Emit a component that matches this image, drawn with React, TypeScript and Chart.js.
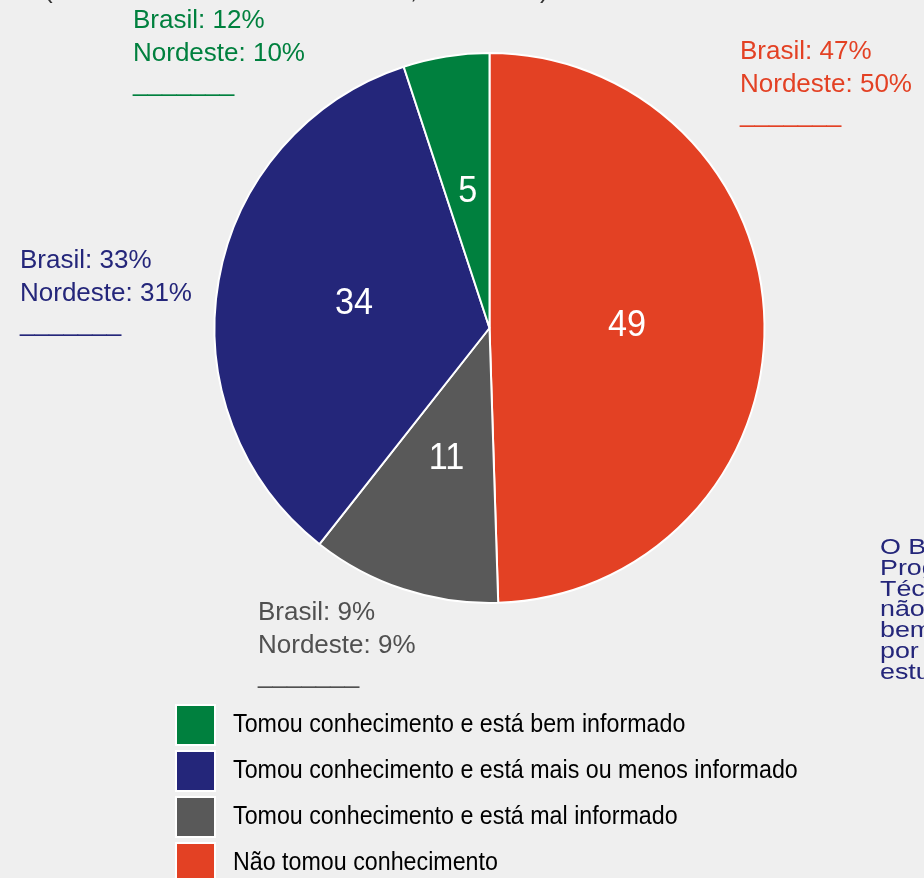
import React, { useEffect, useRef } from "react";
import { Chart, registerables } from "chart.js";

Chart.register(...registerables);

// ---- Data ----
const categories = [
  "Não tomou conhecimento",
  "Tomou conhecimento e está mal informado",
  "Tomou conhecimento e está mais ou menos informado",
  "Tomou conhecimento e está bem informado",
];
const values = [49, 11, 34, 5];
const brasil = [47, 9, 33, 12];
const nordeste = [50, 9, 31, 10];
const sliceColors = ["#e34124", "#595959", "#24267a", "#00803e"];
const noteColors = ["#e34124", "#505050", "#24267a", "#00803e"];
const legendOrder = [3, 2, 1, 0];
const sideLines = ["O Brasil", "Programa", "Técnico", "não", "bem", "por", "estudo"];

// ---- Layout (positions, not data) ----
const notePos = [
  [740, 59],
  [258, 620],
  [20, 268],
  [133, 28],
];
const FONT = "'Liberation Sans', Arial, Helvetica, sans-serif";

function txt(ctx: CanvasRenderingContext2D, s: string, x: number, y: number, size: number, color: string, sx = 1, align: CanvasTextAlign = "left", baseline: CanvasTextBaseline = "alphabetic") {
  ctx.save();
  ctx.translate(x, y);
  ctx.scale(sx, 1);
  ctx.font = `${size}px ${FONT}`;
  ctx.fillStyle = color;
  ctx.textAlign = align;
  ctx.textBaseline = baseline;
  ctx.fillText(s, 0, 0);
  ctx.restore();
}

const decorPlugin = {
  id: "decor",
  beforeDraw(chart: any) {
    const ctx = chart.ctx as CanvasRenderingContext2D;
    ctx.save();
    ctx.fillStyle = "#efefef";
    ctx.fillRect(0, 0, chart.width, chart.height);
    ctx.restore();
  },
  afterDatasetsDraw(chart: any) {
    const ctx = chart.ctx as CanvasRenderingContext2D;
    const meta = chart.getDatasetMeta(0);
    meta.data.forEach((arc: any, i: number) => {
      const p = arc.tooltipPosition();
      txt(ctx, String(values[i]), p.x, p.y, 36, "#ffffff", 0.95, "center", "middle");
    });
  },
  afterDraw(chart: any) {
    const ctx = chart.ctx as CanvasRenderingContext2D;
    // clipped heading fragments at the very top
    txt(ctx, "(", 44, -2.5, 26, "#333333");
    txt(ctx, ",", 410, -2.5, 26, "#333333");
    txt(ctx, ")", 540, -2.5, 26, "#333333");

    // annotations Brasil / Nordeste
    for (let i = 0; i < categories.length; i++) {
      const [x, y] = notePos[i];
      const c = noteColors[i];
      txt(ctx, `Brasil: ${brasil[i]}%`, x, y, 26, c);
      txt(ctx, `Nordeste: ${nordeste[i]}%`, x, y + 32.5, 26, c);
      txt(ctx, "_______", x, y + 63, 26, c);
    }

    // legend
    legendOrder.forEach((idx, row) => {
      const top = 704 + row * 46;
      ctx.save();
      ctx.fillStyle = "#ffffff";
      ctx.fillRect(175, top, 41, 42);
      ctx.fillStyle = sliceColors[idx];
      ctx.fillRect(177, top + 2, 37, 38);
      ctx.restore();
      txt(ctx, categories[idx], 233, top + 27.5, 25, "#000000", 0.93);
    });

    // clipped side text
    sideLines.forEach((s, i) => {
      txt(ctx, s, 880, 554.3 + i * 20.7, 22, "#24267a", 1.22);
    });
  },
};

export default function App() {
  const ref = useRef<HTMLCanvasElement | null>(null);
  useEffect(() => {
    if (!ref.current) return;
    const chart = new Chart(ref.current, {
      type: "pie",
      data: {
        labels: categories,
        datasets: [
          {
            data: values,
            backgroundColor: sliceColors,
            borderColor: "#ffffff",
            borderWidth: 2,
          },
        ],
      },
      options: {
        responsive: false,
        animation: false,
        radius: 275,
        layout: { padding: { left: 55, right: 0, top: 0, bottom: 222 } },
        plugins: {
          legend: { display: false },
          tooltip: { enabled: false },
          title: { display: false },
        },
      } as any,
      plugins: [decorPlugin],
    });
    return () => chart.destroy();
  }, []);
  return (
    <div style={{ position: "absolute", left: 0, top: 0, width: 924, height: 878, background: "#efefef", overflow: "hidden" }}>
      <canvas ref={ref} width={924} height={878} style={{ display: "block", width: 924, height: 878 }} />
    </div>
  );
}
